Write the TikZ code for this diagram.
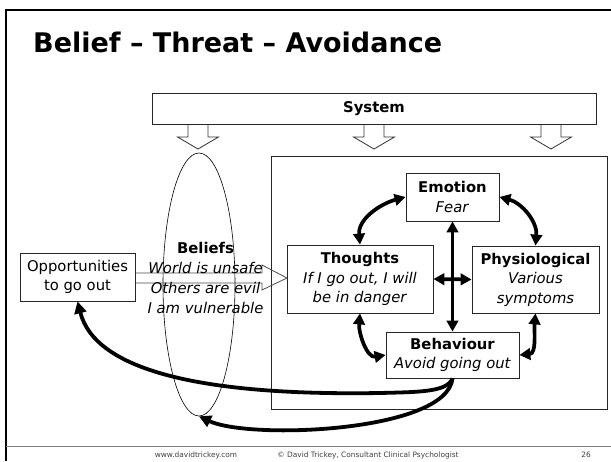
\documentclass[tikz,border=0pt]{standalone}
\usepackage{fontspec}
\setmainfont{DejaVu Sans}
\usetikzlibrary{arrows.meta,shapes.geometric}
\begin{document}
\begin{tikzpicture}[x=1pt,y=1pt,
  box/.style={draw=black!85, line width=0.8pt, fill=white, inner sep=0pt, align=center,
              font=\fontsize{14.8}{19.5}\selectfont},
  txt/.style={inner sep=0pt, align=center, font=\fontsize{14.8}{19.8}\selectfont},
  dbl/.style={line width=3.7pt, {Triangle[length=11pt,width=11.5pt]}-{Triangle[length=11pt,width=11.5pt]}},
  one/.style={line width=3.8pt, -{Triangle[length=12pt,width=12pt]}},
  hollow/.style={draw=black!80, line width=0.8pt, fill=white},
  foot/.style={inner sep=0pt, text=black!75, font=\fontsize{7.4}{9}\selectfont},
]
\useasboundingbox (0,0) rectangle (611,-461);
\fill[white] (0,0) rectangle (611,-461);

% frame
\draw[line width=2.6pt] (6,-461) -- (6,-10) -- (611,-10);
\draw[black!50, line width=0.8pt] (6,-446) -- (611,-446);

% title
\node[anchor=base west, inner sep=0pt, font=\fontsize{27}{32}\selectfont\bfseries] (title) at (33,-52) {Belief – Threat – Avoidance};

% big box
\node[draw=black!85, line width=0.8pt, minimum width=336pt, minimum height=253pt, inner sep=0pt] (big) at (439,-282.5) {};

% system box and hollow arrows
\foreach \x in {198,374,551}
  \draw[hollow] ({\x-10},-123) -- ({\x-10},-137) -- ({\x-20.5},-137) -- (\x,-149) -- ({\x+20.5},-137) -- ({\x+10},-137) -- ({\x+10},-123);
\node[box, font=\fontsize{14.8}{18}\selectfont\bfseries, minimum width=444pt, minimum height=31pt] (sys) at (374,-108.5) {System};

% ellipse
\node[draw=black, line width=0.6pt, ellipse, inner sep=0pt, minimum width=72pt, minimum height=263pt] (bel) at (199,-284.5) {};

% opportunities
\node[box, minimum width=115pt, minimum height=48pt] (opp) at (77.5,-277) {Opportunities\\to go out};

% hollow right arrow
\draw[draw=black!70, line width=0.8pt] (opp.east |- 0,-273) -- (262,-273) -- (262,-265) -- (287,-278) -- (262,-290) -- (262,-283) -- (opp.east |- 0,-283);

% beliefs text
\node[txt] (beltxt) at (205.5,-278) {\textbf{Beliefs}\\\textit{World is unsafe}\\\textit{Others are evil}\\\textit{I am vulnerable}};

% cycle boxes
\node[box, minimum width=93pt, minimum height=48pt] (emo) at (452.5,-197) {\textbf{Emotion}\\\textit{Fear}};
\node[box, minimum width=146pt, minimum height=68pt] (tho) at (360,-279) {\textbf{Thoughts}\\\textit{If I go out, I will}\\\textit{be in danger}};
\node[box, minimum width=127pt, minimum height=67pt] (phy) at (535.5,-279.5) {\textbf{Physiological}\\\textit{Various}\\\textit{symptoms}};
\node[box, minimum width=133pt, minimum height=46pt] (beh) at (452.5,-355) {\textbf{Behaviour}\\\textit{Avoid going out}};

% cycle arrows
\draw[dbl] (tho.north) to[out=95,in=195] (emo.west);
\draw[dbl] (phy.north) to[out=85,in=-15] (emo.east);
\draw[dbl] (tho.south) to[out=-95,in=190] (beh.west);
\draw[dbl] (phy.south) to[out=-95,in=5] (beh.east);
\draw[dbl] (emo.south) -- (beh.north);
\draw[dbl] (tho.east) -- (phy.west);

% long arrows
\draw[one] (beh.south) .. controls (447,-392) and (420,-392) .. (380,-393)
  .. controls (200,-396) and (95,-370) .. (opp.south);
\draw[one] (beh.south) .. controls (447,-432) and (250,-440) .. (bel.south);

% footer
\node[foot] (f1) at (196,-455) {www.davidtrickey.com};
\node[foot] (f2) at (368,-455) {© David Trickey, Consultant Clinical Psychologist};
\node[foot] (f3) at (586,-455) {26};
\end{tikzpicture}
\end{document}
